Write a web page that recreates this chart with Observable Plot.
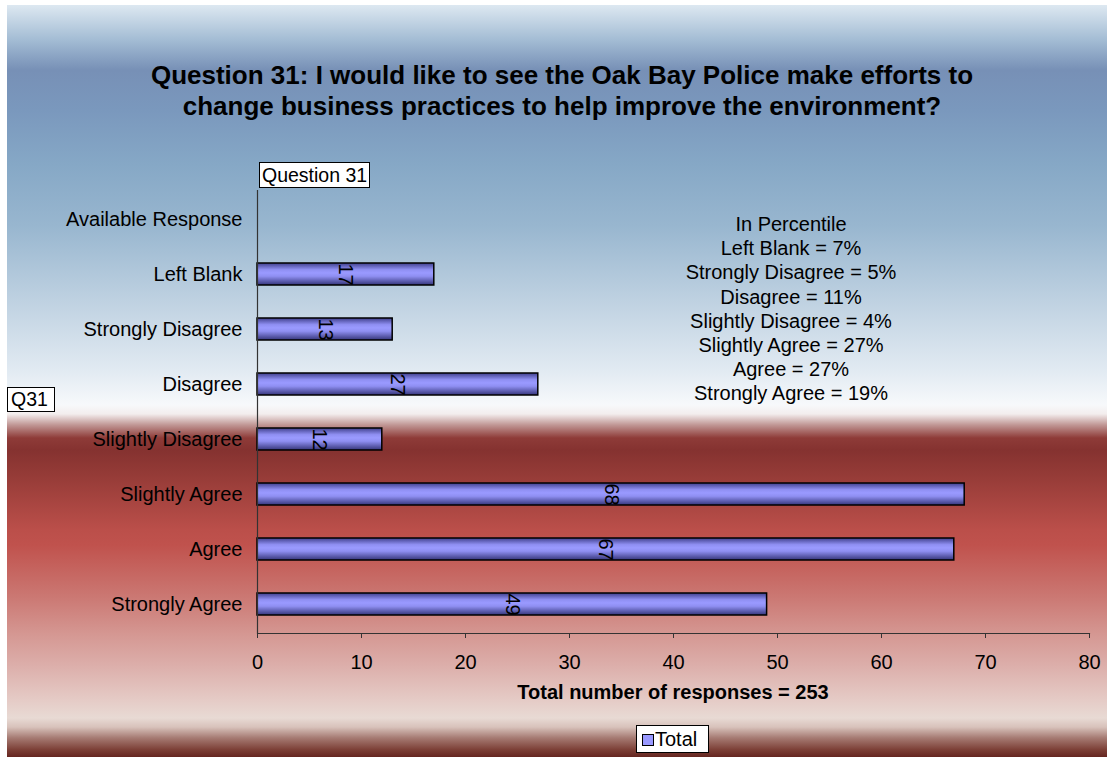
<!DOCTYPE html>
<html>
<head>
<meta charset="utf-8">
<script src="https://cdn.jsdelivr.net/npm/d3@7"></script>
<script src="https://cdn.jsdelivr.net/npm/@observablehq/plot@0.6"></script>
<style>
  html, body { margin: 0; padding: 0; background: #ffffff; }
  #wrap { position: relative; width: 1107px; height: 757px; overflow: hidden; font-family: "Liberation Sans", Arial, sans-serif; color: #000; }
  #bg { position: absolute; left: 7px; top: 5px; width: 1100px; height: 752px;
    background: linear-gradient(to bottom,
      #dde8f1 0px, #a3bcd4 35px, #7790b6 65px, #7a98bd 105px, #86a8c6 160px,
      #98b6cf 220px, #bed1e1 295px, #e1eaf2 365px, #f7f9fb 400px, #f3eded 409px,
      #c09694 420px, #8e3b38 433px, #853230 445px, #953b37 470px, #bb4f4a 525px,
      #c0524d 540px, #cb7873 592px, #d59893 630px, #dcaeaa 660px, #e5cbc6 695px,
      #e8dad4 713px, #d8c2bb 722px, #a57a72 733px, #7b3e35 745px, #652620 752px);
  }
  .abs { position: absolute; white-space: nowrap; }
  #title { left: 0px; width: 1124px; top: 60px; text-align: center; font-weight: bold; font-size: 26px; line-height: 31px; }
  #pct { left: 591px; width: 400px; top: 212px; text-align: center; font-size: 20px; line-height: 24.2px; }
  #xlab { left: 473px; width: 400px; top: 681px; text-align: center; font-weight: bold; font-size: 20px; line-height: 22px; }
  .box { background: #fff; border: 1px solid #000; font-size: 19.5px; box-sizing: border-box; }
  #qbox { left: 259px; top: 162px; width: 111px; height: 26px; line-height: 24px; padding-left: 2px; }
  #q31 { left: 7px; top: 387px; width: 48px; height: 25px; line-height: 23px; padding-left: 3px; }
  #legend { left: 636px; top: 725px; width: 73px; height: 28px; line-height: 26px; padding-left: 18px; font-size: 20px; }
  #legend .sw { position: absolute; left: 5px; top: 8px; width: 10px; height: 10px; background: #9999ff; border: 1px solid #000; }
  #chart { position: absolute; left: 0; top: 0; }
</style>
</head>
<body>
<svg width="0" height="0" style="position:absolute">
  <defs>
    <linearGradient id="barGrad" x1="0" y1="0" x2="0" y2="1">
      <stop offset="0" stop-color="#3f3f8c"/>
      <stop offset="0.3" stop-color="#8f8ff2"/>
      <stop offset="0.45" stop-color="#9a9aff"/>
      <stop offset="0.6" stop-color="#8f8ff2"/>
      <stop offset="1" stop-color="#35357a"/>
    </linearGradient>
  </defs>
</svg>
<div id="wrap">
  <div id="bg"></div>
  <div id="chart"></div>
  <div id="title" class="abs"></div>
  <div id="pct" class="abs"></div>
  <div id="xlab" class="abs"></div>
  <div id="qbox" class="abs box"></div>
  <div id="q31" class="abs box"></div>
  <div id="legend" class="abs box"><span class="sw"></span><span id="legtext"></span></div>
</div>
<script>
const titleLines = [
  "Question 31: I would like to see the Oak Bay Police make efforts to",
  "change business practices to help improve the environment?"
];
const categories = ["Available Response", "Left Blank", "Strongly Disagree", "Disagree", "Slightly Disagree", "Slightly Agree", "Agree", "Strongly Agree"];
const totals = [null, 17, 13, 27, 12, 68, 67, 49];
const xTicks = [0, 10, 20, 30, 40, 50, 60, 70, 80];
const percentLines = [
  "In Percentile",
  "Left Blank = 7%",
  "Strongly Disagree = 5%",
  "Disagree = 11%",
  "Slightly Disagree = 4%",
  "Slightly Agree = 27%",
  "Agree = 27%",
  "Strongly Agree = 19%"
];
const xAxisTitle = "Total number of responses = 253";
const seriesName = "Total";
const yBoxLabel = "Q31";
const xBoxLabel = "Question 31";

const data = categories.map((c, i) => ({cat: c, value: totals[i]}));
const withValues = data.filter(d => d.value != null);

document.getElementById("title").innerHTML = titleLines.join("<br>");
document.getElementById("pct").innerHTML = percentLines.join("<br>");
document.getElementById("xlab").textContent = xAxisTitle;
document.getElementById("qbox").textContent = xBoxLabel;
document.getElementById("q31").textContent = yBoxLabel;
document.getElementById("legtext").textContent = seriesName;

const chart = Plot.plot({
  width: 1107,
  height: 757,
  marginLeft: 257,
  marginRight: 18,
  marginTop: 190,
  marginBottom: 124,
  style: {background: "transparent", fontFamily: "'Liberation Sans', Arial, sans-serif", fontSize: "20px", color: "#000"},
  x: {domain: [0, 80]},
  y: {domain: categories, paddingInner: 0.6, paddingOuter: 0.3},
  marks: [
    Plot.barX(withValues, {y: "cat", x: "value", fill: "url(#barGrad)", stroke: "#000", strokeWidth: 1.5}),
    Plot.text(withValues, {y: "cat", x: d => d.value / 2, text: d => String(d.value), rotate: 90, fontSize: 20, fill: "#000"}),
    Plot.ruleX([0], {stroke: "#333", strokeWidth: 1.2}),
    Plot.frame({anchor: "bottom", stroke: "#333", strokeWidth: 1.2}),
    Plot.axisX({ticks: xTicks, tickSize: 5, tickPadding: 16, label: null, stroke: "#333", fontSize: 20}),
    Plot.axisY({tickSize: 0, tickPadding: 15, label: null, fontSize: 20})
  ]
});
document.getElementById("chart").appendChild(chart);
</script>
</body>
</html>
